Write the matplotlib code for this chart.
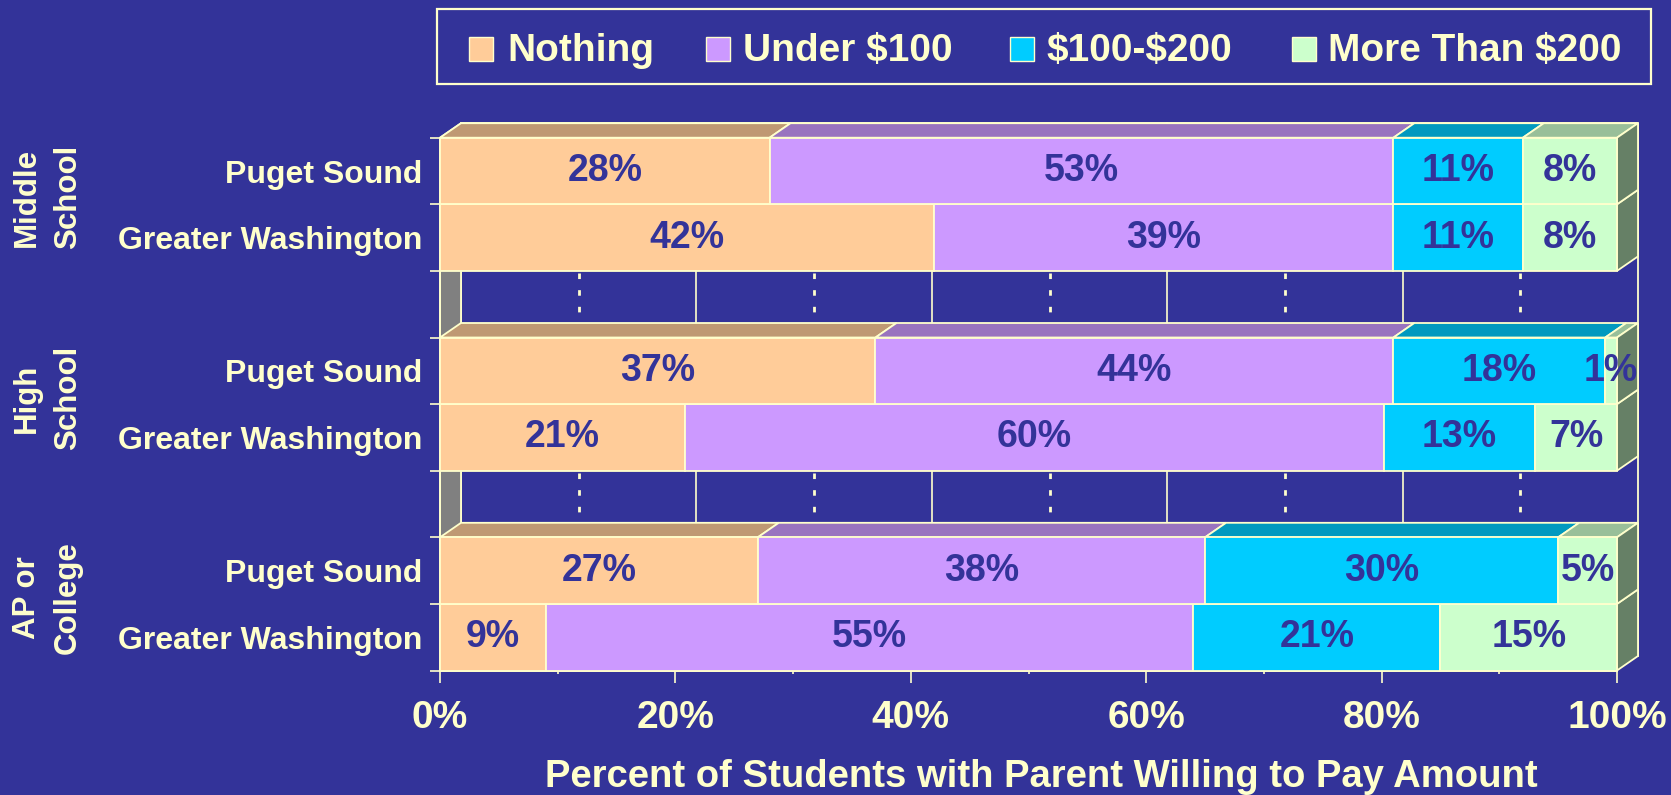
import matplotlib
matplotlib.use('Agg')
import matplotlib.pyplot as plt
from matplotlib.patches import Polygon, Rectangle

plt.rcParams['font.family'] = ['Liberation Sans', 'DejaVu Sans']
plt.rcParams['font.weight'] = 'bold'

# ---------------- data ----------------
groups = ['Middle\nSchool', 'High\nSchool', 'AP or\nCollege']
regions = ['Puget Sound', 'Greater Washington']
series = ['Nothing', 'Under $100', '$100-$200', 'More Than $200']
# rows: MS-PS, MS-GW, HS-PS, HS-GW, AP-PS, AP-GW
nothing = [28, 42, 37, 21, 27, 9]
under_100 = [53, 39, 44, 60, 38, 55]
from_100_to_200 = [11, 11, 18, 13, 30, 21]
more_than_200 = [8, 8, 1, 7, 5, 15]
x_ticks = [0, 20, 40, 60, 80, 100]

# ---------------- style ----------------
W, H = 1671, 795
BG = '#333399'
FG = '#FFFFCC'
front_cols = ['#FFCC99', '#CC99FF', '#00CCFF', '#CCFFCC']
top_cols = ['#BF9973', '#9973BF', '#0099BF', '#99BF99']
side_col = '#668066'
wall_col = '#808080'
EW = 1.3

fig = plt.figure(figsize=(W / 100, H / 100), dpi=100, facecolor=BG)
X0, X1 = 440, 1617
Y0, Y1 = 137.7, 670.5
ax = fig.add_axes([X0 / W, 1 - Y1 / H, (X1 - X0) / W, (Y1 - Y0) / H])
n_slots = len(groups) * 3 - 1
ax.set_xlim(0, 100)
ax.set_ylim(n_slots, 0)
ax.patch.set_visible(False)

DX = 21 / (X1 - X0) * 100
DY = 14.5 / ((Y1 - Y0) / n_slots)

# back wall + left wall
ax.add_patch(Rectangle((DX, -DY), 100, n_slots, fc=BG, ec=FG, lw=EW,
                       clip_on=False, zorder=1))
ax.add_patch(Polygon([(0, 0), (DX, -DY), (DX, n_slots - DY), (0, n_slots)],
                     closed=True, fc=wall_col, ec=FG, lw=EW, clip_on=False, zorder=1.5))
for t in x_ticks[1:-1]:
    ax.plot([t + DX, t + DX], [-DY, n_slots - DY], color=FG, lw=1.2,
            zorder=2, clip_on=False)
for t in [10, 30, 50, 70, 90]:
    ax.plot([t + DX, t + DX], [-DY, n_slots - DY], color=FG, lw=2.0,
            ls=(0, (2, 4)), zorder=2, clip_on=False)

# bars
rows = list(zip(nothing, under_100, from_100_to_200, more_than_200))
slots = []
for g in range(len(groups)):
    for r in range(len(regions)):
        slots.append(g * 3 + r)

order = sorted(range(len(rows)), key=lambda i: -slots[i])
for i in order:
    s = slots[i]
    vals = rows[i]
    tot = float(sum(vals))
    z = 10 + (n_slots - s)
    left = 0.0
    for k, v in enumerate(vals):
        w = v / tot * 100
        r = left + w
        ax.add_patch(Polygon([(left, s), (r, s), (r + DX, s - DY), (left + DX, s - DY)],
                             closed=True, fc=top_cols[k], ec=FG, lw=EW,
                             clip_on=False, zorder=z))
        ax.add_patch(Rectangle((left, s), w, 1, fc=front_cols[k], ec=FG, lw=EW,
                               clip_on=False, zorder=z + 0.2))
        ax.text(left + w / 2, s + 0.5, f'{v}%', ha='center', va='center',
                fontsize=27, color=BG, zorder=40)
        left = r
    ax.add_patch(Polygon([(100, s), (100 + DX, s - DY), (100 + DX, s + 1 - DY), (100, s + 1)],
                         closed=True, fc=side_col, ec=FG, lw=EW, clip_on=False, zorder=z + 0.1))

# axes / ticks
for sp in ['top', 'right']:
    ax.spines[sp].set_visible(False)
for sp in ['left', 'bottom']:
    ax.spines[sp].set_color(FG)
    ax.spines[sp].set_linewidth(EW)
ax.set_xticks(x_ticks)
ax.set_xticklabels([f'{t}%' for t in x_ticks])
ax.set_xticks([10, 30, 50, 70, 90], minor=True)
ax.tick_params(axis='x', which='major', length=8.6, width=1.2, color=FG,
               labelcolor=FG, labelsize=28, pad=13)
ax.tick_params(axis='x', which='minor', length=2, width=1.2, color=FG)

ax.set_yticks(range(n_slots + 1))
ax.set_yticklabels([])
cat_pos = [s + 0.5 for s in slots]
ax.set_yticks(cat_pos, minor=True)
ax.set_yticklabels([regions[j % 2] for j in range(len(slots))], minor=True)
ax.tick_params(axis='y', which='major', length=7.2, width=1.2, color=FG)
ax.tick_params(axis='y', which='minor', length=0, labelcolor=FG,
               labelsize=23, pad=12.5)

# group labels (two rotated lines each)
grp_y = [197, 398, 598]
for g, name in enumerate(groups):
    l1, l2 = name.split('\n')
    fig.text(27 / W, 1 - grp_y[g] / H, l1, rotation=90, ha='center', va='center',
             fontsize=22.5, color=FG)
    fig.text(68 / W, 1 - grp_y[g] / H, l2, rotation=90, ha='center', va='center',
             fontsize=22.5, color=FG)

# axis title
fig.text(1041.5 / W, 1 - 787 / H, 'Percent of Students with Parent Willing to Pay Amount',
         ha='center', va='baseline', fontsize=27.5, color=FG)

# legend
fig.add_artist(Rectangle((437 / W, 1 - 84 / H), (1651 - 437) / W, (84 - 9.3) / H,
                         transform=fig.transFigure, fc='none', ec=FG, lw=1.6))
mk_x = [469, 706, 1010, 1292]
tx_x = [507, 743, 1046, 1328]
for k, name in enumerate(series):
    fig.add_artist(Rectangle((mk_x[k] / W, 1 - 61 / H), 24 / W, 24 / H,
                             transform=fig.transFigure, fc=front_cols[k], ec=FG, lw=1.0))
    fig.text(tx_x[k] / W, 1 - 61 / H, name, ha='left', va='baseline',
             fontsize=28, color=FG, parse_math=False)

fig.savefig('out.png', dpi=100, facecolor=BG)
